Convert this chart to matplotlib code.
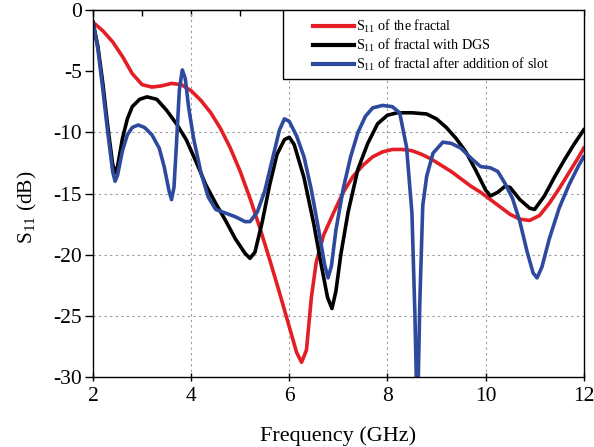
import numpy as np
import matplotlib
matplotlib.use("Agg")
import matplotlib.pyplot as plt
from matplotlib.patches import Rectangle

# S11 of the fractal
freq_red = [2.0, 2.2, 2.4, 2.6, 2.8, 3.0, 3.2, 3.4, 3.6, 3.8, 4.0, 4.2, 4.4, 4.6, 4.8,
            5.0, 5.2, 5.4, 5.6, 5.8, 6.0, 6.15, 6.25, 6.35, 6.45, 6.55, 6.7, 6.9, 7.1,
            7.3, 7.5, 7.7, 7.9, 8.1, 8.3, 8.5, 8.7, 8.9, 9.1, 9.3, 9.5, 9.7, 9.9, 10.1,
            10.3, 10.5, 10.7, 10.9, 11.1, 11.3, 11.5, 11.7, 11.9, 12.0]
s11_red = [-1.0, -1.7, -2.6, -3.8, -5.2, -6.1, -6.3, -6.2, -6.0, -6.1, -6.6, -7.4, -8.4,
           -9.7, -11.3, -13.2, -15.4, -17.8, -20.4, -23.1, -25.9, -28.0, -28.8, -27.8,
           -23.5, -20.6, -18.4, -16.6, -14.9, -13.6, -12.7, -12.0, -11.6, -11.4, -11.4,
           -11.5, -11.8, -12.2, -12.7, -13.2, -13.8, -14.4, -14.9, -15.5, -16.1, -16.7,
           -17.1, -17.2, -16.8, -15.8, -14.6, -13.3, -12.0, -11.3]

# S11 of fractal with DGS
freq_blk = [2.0, 2.1, 2.2, 2.3, 2.4, 2.45, 2.5, 2.6, 2.7, 2.8, 2.95, 3.1, 3.3, 3.5, 3.7,
            3.9, 4.1, 4.3, 4.5, 4.7, 4.9, 5.1, 5.2, 5.3, 5.45, 5.6, 5.75, 5.9, 6.0, 6.1,
            6.3, 6.5, 6.65, 6.78, 6.87, 6.95, 7.05, 7.2, 7.4, 7.6, 7.8, 8.0, 8.2, 8.5,
            8.8, 9.0, 9.2, 9.4, 9.6, 9.8, 10.0, 10.1, 10.25, 10.4, 10.5, 10.7, 10.9,
            11.0, 11.2, 11.4, 11.6, 11.8, 12.0]
s11_blk = [-1.0, -3.0, -6.0, -9.5, -12.6, -13.3, -12.8, -10.5, -8.9, -7.9, -7.3, -7.1,
           -7.3, -8.2, -9.3, -10.6, -12.4, -14.3, -15.8, -17.2, -18.7, -19.9, -20.3,
           -19.8, -17.3, -14.3, -11.8, -10.6, -10.4, -11.0, -13.7, -17.5, -20.8, -23.5,
           -24.4, -23.0, -20.0, -16.5, -13.0, -10.9, -9.3, -8.6, -8.4, -8.4, -8.5, -8.9,
           -9.6, -10.5, -11.6, -13.1, -14.7, -15.2, -14.9, -14.4, -14.5, -15.5, -16.2,
           -16.3, -15.2, -13.7, -12.3, -11.0, -9.8]

# S11 of fractal after addition of slot
freq_blu = [2.0, 2.1, 2.2, 2.3, 2.4, 2.45, 2.5, 2.6, 2.7, 2.8, 2.92, 3.05, 3.2, 3.35,
            3.45, 3.55, 3.6, 3.65, 3.7, 3.76, 3.82, 3.88, 3.95, 4.05, 4.2, 4.35, 4.5,
            4.7, 4.9, 5.1, 5.2, 5.35, 5.5, 5.65, 5.8, 5.9, 6.0, 6.15, 6.3, 6.45, 6.6,
            6.72, 6.79, 6.86, 6.95, 7.1, 7.25, 7.4, 7.55, 7.7, 7.9, 8.1, 8.25, 8.39,
            8.5, 8.56, 8.61, 8.66, 8.72, 8.8, 8.93, 9.13, 9.3, 9.5, 9.7, 9.9, 10.1,
            10.25, 10.4, 10.55, 10.7, 10.85, 10.97, 11.05, 11.15, 11.3, 11.5, 11.7,
            11.9, 12.0]
s11_blu = [-1.0, -3.2, -6.5, -10.0, -13.2, -14.0, -13.5, -11.5, -10.2, -9.6, -9.4, -9.6,
           -10.2, -11.3, -12.8, -14.8, -15.5, -14.5, -11.0, -6.5, -4.9, -5.6, -8.0,
           -10.5, -13.3, -15.3, -16.3, -16.6, -16.9, -17.3, -17.3, -16.5, -14.8, -12.3,
           -9.8, -8.9, -9.1, -10.3, -12.0, -14.7, -18.0, -20.8, -21.9, -20.9, -18.0,
           -14.6, -12.0, -10.0, -8.7, -8.0, -7.8, -7.9, -8.4, -11.2, -16.6, -24.8,
           -34.0, -24.0, -16.0, -13.6, -11.7, -10.8, -10.9, -11.3, -12.1, -12.8, -12.9,
           -13.2, -14.2, -15.4, -17.3, -19.8, -21.5, -21.9, -21.0, -18.7, -16.2, -14.3,
           -12.7, -12.0]

x_ticks = [2, 4, 6, 8, 10, 12]
y_ticks = [0, -5, -10, -15, -20, -25, -30]
top_ticks = [2, 3, 4, 5, 6, 7, 8, 9, 10, 11, 12]

plt.rcParams['font.family'] = ['Liberation Serif', 'DejaVu Serif']
plt.rcParams['mathtext.fontset'] = 'custom'
plt.rcParams['mathtext.rm'] = 'Liberation Serif'
plt.rcParams['axes.unicode_minus'] = False

fig = plt.figure(figsize=(5.94, 4.47), dpi=100)
ax = fig.add_axes([0.1566, 0.1566, 0.826, 0.821])

lw = 2.6
ax.plot(freq_red, s11_red, color='#e31e24', lw=lw, label=r'$\mathregular{S_{11}}$ of the fractal')
ax.plot(freq_blk, s11_blk, color='black', lw=lw, label=r'$\mathregular{S_{11}}$ of fractal with DGS')
ax.plot(freq_blu, s11_blu, color='#2e4a9e', lw=lw, label=r'$\mathregular{S_{11}}$ of fractal after addition of slot')

ax.set_xlim(2, 12)
ax.set_ylim(-30, 0)
ax.set_xticks(x_ticks)
ax.set_yticks(y_ticks)
ax.tick_params(axis='both', which='major', labelsize=15.5, width=1, length=6)
ax.tick_params(axis='x', direction='inout', top=False, pad=4)
ax.tick_params(axis='y', direction='out', right=False, pad=2)

secax = ax.secondary_xaxis('top')
secax.set_xticks(top_ticks)
secax.tick_params(direction='in', length=4, width=1, labeltop=False)

ax.grid(True, which='major', color='#9a9a9a', linestyle=(0, (2, 3)), lw=0.8)
for val, gl in zip(y_ticks, ax.yaxis.get_gridlines()):
    if val in (0, -5, -30):
        gl.set_visible(False)
for val, gl in zip(x_ticks, ax.xaxis.get_gridlines()):
    if val in (2, 12):
        gl.set_visible(False)

ax.set_xlabel('Frequency (GHz)', fontsize=16, labelpad=15)
ax.set_ylabel(r'$\mathregular{S_{11}}$ (dB)', fontsize=15.5)
ax.yaxis.set_label_coords(-0.11, 0.463)

# legend box
ax.add_patch(Rectangle((0.387, 0.812), 0.613, 0.188, transform=ax.transAxes,
                       facecolor='white', edgecolor='black', lw=1, zorder=4))
leg = ax.legend(loc='upper left', bbox_to_anchor=(0.44, 0.99), fontsize=10.2,
                frameon=False, handlelength=2.9, borderaxespad=0.0,
                labelspacing=0.12, handletextpad=0.1, borderpad=0.3)
leg.set_zorder(5)
for h in leg.get_lines():
    h.set_linewidth(3)

for s in ax.spines.values():
    s.set_linewidth(1)

fig.savefig('out.png', dpi=100)
